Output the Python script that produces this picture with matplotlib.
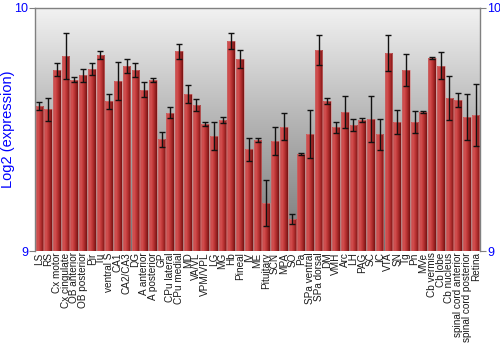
import matplotlib
matplotlib.use("Agg")
import matplotlib.pyplot as plt
import numpy as np
from matplotlib.colors import LinearSegmentedColormap
from matplotlib.patches import Rectangle

plt.rcParams['font.family'] = ['Liberation Sans', 'DejaVu Sans']

categories = ["LS", "RS", "Cx motor", "Cx cingulate", "OB anterior", "OB posterior",
              "Pir", "Tu", "ventral S", "CA1", "CA2/CA3", "DG", "A anterior",
              "A posterior", "GP", "CPu lateral", "CPu medial", "MD", "VA/VL",
              "VPM/VPL", "LG", "MG", "Hb", "Pineal", "IV", "ME", "Pituitary",
              "SCN", "MPA", "SO", "Pa", "SPa ventral", "SPa dorsal", "DM", "VMH",
              "Arc", "LH", "PAG", "SC", "IC", "VTA", "SN", "Tg", "Pn", "MVe",
              "Cb vermis", "Cb lobe", "Cb nucleus", "spinal cord anterior",
              "spinal cord posterior", "Retina"]

values = [9.597, 9.583, 9.746, 9.802, 9.704, 9.723, 9.750, 9.807, 9.616, 9.701,
          9.761, 9.746, 9.663, 9.704, 9.460, 9.569, 9.822, 9.646, 9.601, 9.523,
          9.474, 9.539, 9.864, 9.790, 9.418, 9.457, 9.196, 9.453, 9.512, 9.132,
          9.400, 9.480, 9.827, 9.617, 9.509, 9.572, 9.517, 9.540, 9.543, 9.481,
          9.815, 9.531, 9.745, 9.532, 9.572, 9.793, 9.763, 9.630, 9.621, 9.553,
          9.560]

errors = [0.017, 0.046, 0.027, 0.094, 0.010, 0.027, 0.025, 0.015, 0.032, 0.078,
          0.029, 0.029, 0.031, 0.008, 0.031, 0.023, 0.030, 0.036, 0.023, 0.008,
          0.057, 0.011, 0.032, 0.036, 0.049, 0.010, 0.095, 0.059, 0.056, 0.022,
          0.004, 0.099, 0.062, 0.014, 0.023, 0.065, 0.025, 0.008, 0.096, 0.064,
          0.075, 0.049, 0.067, 0.045, 0.005, 0.004, 0.056, 0.091, 0.029, 0.095,
          0.128]

y_ticks = [9, 10]
y_label = "Log2 (expression)"

fig = plt.figure(figsize=(5, 3.5), dpi=100)
ax = fig.add_axes([35 / 500, 1 - 251 / 350, 445 / 500, 243 / 350])

n = len(categories)
x = np.arange(n)
ax.set_xlim(-0.5, n - 0.5)
ax.set_ylim(9, 10)

# background vertical gradient
bg_cmap = LinearSegmentedColormap.from_list("bg", ["#767676", "#b0b0b0", "#f2f2f2"])
grad = np.linspace(0, 1, 256).reshape(-1, 1)
ax.imshow(grad, extent=[-0.5, n - 0.5, 9, 10], origin="lower", aspect="auto",
          cmap=bg_cmap, zorder=0, interpolation="bilinear")

# bars with horizontal gradient
bar_cmap = LinearSegmentedColormap.from_list(
    "bar", ["#a82c2c", "#d65656", "#ca4242", "#b63232", "#982222", "#761212"])
hgrad = np.linspace(0, 1, 64).reshape(1, -1)
w = 0.88
for xi, v in zip(x, values):
    rect = Rectangle((xi - w / 2, 9), w, v - 9, facecolor="none",
                     edgecolor="#d98080", linewidth=0.4, zorder=3)
    ax.add_patch(rect)
    im = ax.imshow(hgrad, extent=[xi - w / 2, xi + w / 2, 9, v], aspect="auto",
                   cmap=bar_cmap, zorder=2, interpolation="bilinear")
    im.set_clip_path(rect)

ax.set_xlim(-0.5, n - 0.5)
ax.set_ylim(9, 10)

ax.errorbar(x, values, yerr=errors, fmt="none", ecolor="#111111",
            elinewidth=1.0, capsize=2, capthick=1.0, zorder=4)

ax.set_xticks(x)
ax.set_xticklabels(categories, rotation=90, fontsize=7.2, color="#1a1a1a")
ax.tick_params(axis="x", length=0, pad=1)

ax.set_yticks(y_ticks)
ax.set_yticklabels([str(t) for t in y_ticks])
ax.tick_params(axis="y", colors="#808080", labelcolor="#0000ff", labelsize=9,
               length=4, left=True, right=True, labelleft=True, labelright=True,
               pad=1)
ax.set_ylabel(y_label, color="#0000ff", fontsize=10.5, labelpad=-1)

for s in ["left", "top", "right"]:
    ax.spines[s].set_color("#808080")
    ax.spines[s].set_linewidth(1.0)
ax.spines["bottom"].set_visible(False)

fig.savefig("out.png", dpi=100)
